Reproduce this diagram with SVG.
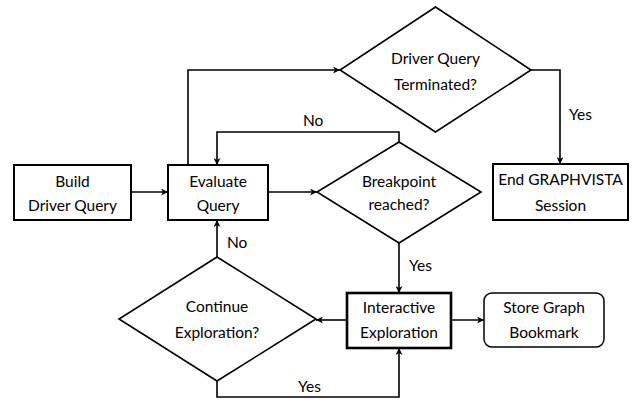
<svg xmlns="http://www.w3.org/2000/svg" width="632" height="403" viewBox="0 0 632 403">
<style>
text{font-family:"Lato","Liberation Sans",sans-serif;font-size:15.5px;fill:#000;text-anchor:middle}
.box{fill:#fff;stroke:#000;stroke-width:2}
.thick{stroke-width:2.6}
.dia{fill:#fff;stroke:#000;stroke-width:1.6}
.round{fill:#fff;stroke:#000;stroke-width:1.5}
.c{fill:none;stroke:#000;stroke-width:1.6}
.lbl{text-anchor:start}
</style>
<defs>
<marker id="ah" viewBox="0 0 10 10" refX="10" refY="5" markerWidth="9" markerHeight="7" markerUnits="userSpaceOnUse" orient="auto">
<path d="M0,0 L10,5 L0,10 L3,5 z" fill="#000"/>
</marker>
</defs>
<g id="connectors">
<path class="c" d="M131,192 H168" marker-end="url(#ah)"/>
<path class="c" d="M268,192 H317" marker-end="url(#ah)"/>
<path class="c" d="M188,165 V70 H340" marker-end="url(#ah)"/>
<path class="c" d="M531,70 H560 V164" marker-end="url(#ah)"/>
<path class="c" d="M399,142 V132 H217 V165" marker-end="url(#ah)"/>
<path class="c" d="M399,243 V293" marker-end="url(#ah)"/>
<path class="c" d="M451,320 H484" marker-end="url(#ah)"/>
<path class="c" d="M347,320 H316" marker-end="url(#ah)"/>
<path class="c" d="M217,257 V220" marker-end="url(#ah)"/>
<path class="c" d="M217,381 V397 H399 V348" marker-end="url(#ah)"/>
<text class="lbl" x="303" y="126">No</text>
<text class="lbl" x="569" y="120">Yes</text>
<text class="lbl" x="409" y="271">Yes</text>
<text class="lbl" x="227" y="248">No</text>
<text class="lbl" x="298" y="392">Yes</text>
</g>
<g id="build">
<rect class="box" x="14" y="165" width="117" height="55"/>
<text x="72.5" y="187">Build</text>
<text x="72.5" y="211">Driver Query</text>
</g>
<g id="evaluate">
<rect class="box" x="168" y="165" width="100" height="55"/>
<text x="218" y="187">Evaluate</text>
<text x="218" y="211">Query</text>
</g>
<g id="terminated">
<polygon class="dia" points="435.5,7 531,70 435.5,132 340,70"/>
<text x="435.5" y="64">Driver Query</text>
<text x="435.5" y="90">Terminated?</text>
</g>
<g id="end">
<rect class="box" x="493" y="164" width="135" height="56"/>
<text x="560.5" y="185">End GRAPHVISTA</text>
<text x="560.5" y="211">Session</text>
</g>
<g id="breakpoint">
<polygon class="dia" points="399,142 481,192 399,243 317,192"/>
<text x="399" y="187">Breakpoint</text>
<text x="399" y="210">reached?</text>
</g>
<g id="interactive">
<rect class="box thick" x="347" y="293" width="104" height="55"/>
<text x="399" y="313">Interactive</text>
<text x="399" y="338">Exploration</text>
</g>
<g id="store">
<rect class="round" x="484" y="293" width="120" height="54" rx="8"/>
<text x="544" y="313">Store Graph</text>
<text x="544" y="338">Bookmark</text>
</g>
<g id="continue">
<polygon class="dia" points="217,257 316,319 217,381 119,319"/>
<text x="217" y="312">Continue</text>
<text x="217" y="338">Exploration?</text>
</g>
</svg>
